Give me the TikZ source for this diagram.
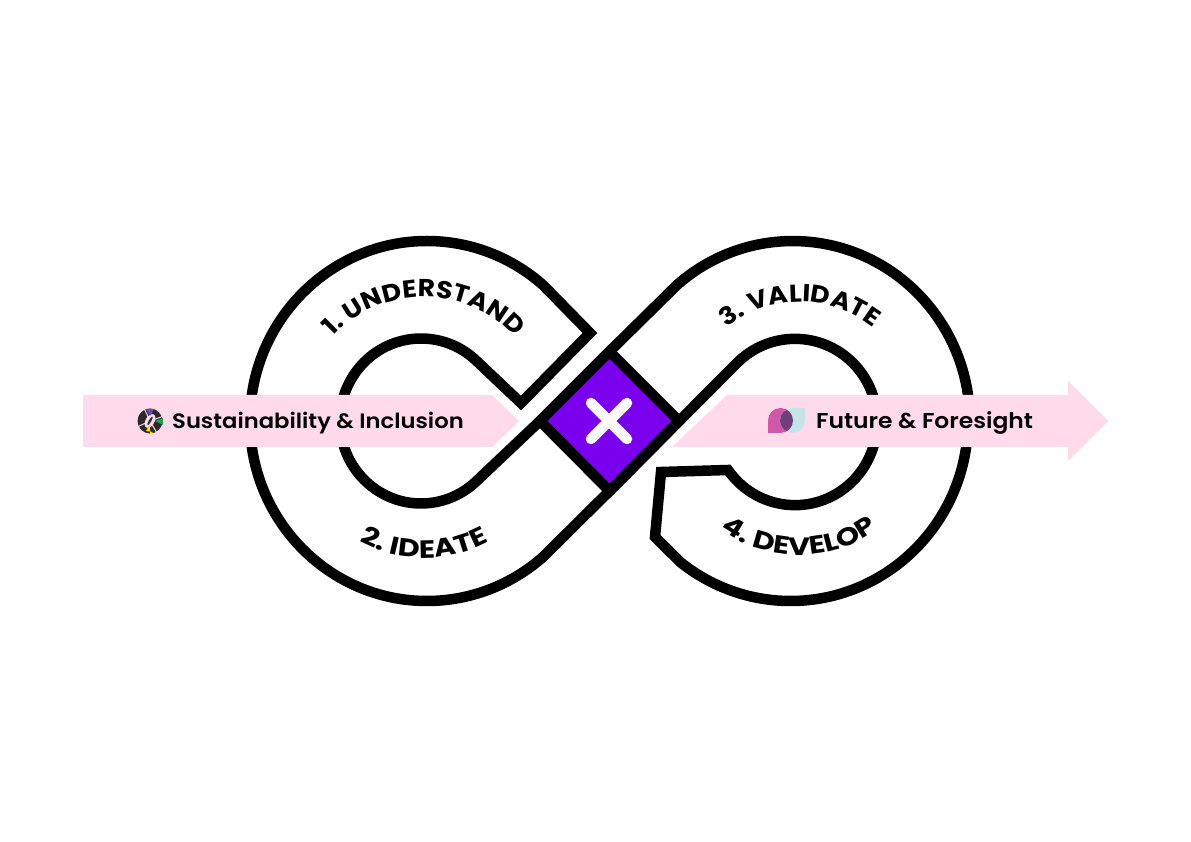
\documentclass[tikz,border=0pt]{standalone}
\usepackage{fontspec}
\newfontfamily\bandfont{Poppins SemiBold}[FakeStretch=1.09]
\newfontfamily\stepfont{Poppins Bold}[FakeStretch=1.09]
\newfontfamily\lowfont{Poppins Bold}[FakeStretch=1.2]
\usetikzlibrary{decorations.text}
\definecolor{bandpink}{HTML}{FFDAEA}
\definecolor{corepurple}{HTML}{7B00EE}
\definecolor{dropmag}{HTML}{D257A8}
\definecolor{dropblue}{HTML}{C5E4EA}
\definecolor{dropmix}{HTML}{6E3F78}
\definecolor{ringdark}{HTML}{2A2A2A}
\definecolor{ringviolet}{HTML}{6A4FB0}
\definecolor{ringgreen}{HTML}{1FA34A}
\definecolor{ringyellow}{HTML}{FFE000}
\tikzset{
  x=1pt,y=1pt,
  loopline/.style={draw=black,line width=10.5pt,miter limit=10,line join=miter},
  band/.style={fill=bandpink,draw=none},
  bandtext/.style={font=\bandfont\fontsize{#1}{#1}\selectfont,anchor=base west,inner sep=0pt,text=black},
  curved/.style={decorate,decoration={text along path,text align=center,
     text={|\stepfont\fontsize{24.5}{24.5}\selectfont|#1}}},
  curvedlow/.style={decorate,decoration={text along path,text align=center,
     text={|\lowfont\fontsize{25}{25}\selectfont|#1}}},
}
\begin{document}
\begin{tikzpicture}
\useasboundingbox (0,-421) rectangle (1191,421);
\fill[white] (0,-421) rectangle (1191,421);
% loop strokes
\draw[loopline] (250,0) arc[start angle=180,end angle=49,x radius=177,y radius=180] -- (590,88) -- (521,18) -- (475,61.5) arc[start angle=48.2,end angle=180,x radius=81,y radius=82.5];
\draw[loopline] (250,0) arc[start angle=180,end angle=311,x radius=177,y radius=180] -- (609.5,-70) -- (737,58) arc[start angle=135,end angle=0,x radius=82,y radius=82.5];
\draw[loopline] (340,0) arc[start angle=180,end angle=311.8,x radius=81,y radius=82.5] -- (540,0) -- (609.5,69.5) -- (677,136) arc[start angle=130.9,end angle=0,x radius=177,y radius=180];
\draw[loopline] (968,0) arc[start angle=0,end angle=-128.3,x radius=177.5,y radius=180] -- (655,-116) -- (661,-51) -- (728,-49) arc[start angle=-144.8,end angle=0,x radius=82,y radius=83];
% centre
\draw[loopline,fill=corepurple] (540,0) -- (609.5,69.5) -- (679,0) -- (609.5,-70) -- cycle;
\draw[white,line width=10.5pt,line cap=round] (591,18) -- (627,-18) (591,-18) -- (627,18);
% bands
\path[band] (83,26) -- (492,26) -- (519,0) -- (492,-26) -- (83,-26) -- cycle;
\path[band] (672,-26) -- (727,26) -- (1068,26) -- (1068,40) -- (1108,0) -- (1068,-40) -- (1068,-26) -- cycle;
% left icon
\fill[ringdark] (150,0) circle[radius=12.5];
\fill[bandpink,rotate around={60:(150,0)}] (150,0) ellipse[x radius=7.5,y radius=4.5];
\foreach \a in {20,115,205,300}{\draw[bandpink,line width=1pt] (150,0) -- ++(\a:13);}
\fill[ringdark,rotate around={60:(150,0)}] (150,0) ellipse[x radius=5,y radius=1.2];
\fill[ringviolet] (146,12) -- (154,12) -- (150,5) -- cycle;
\fill[ringgreen] (163,3) -- (163,-4) -- (155,0) -- cycle;
\fill[ringyellow] (146,-10) -- (153,-11) -- (150,-14) -- (150,-3) -- cycle;
% right icon
\fill[dropmag] (768,-12) -- (768,0.5) arc[start angle=180,end angle=-90,radius=12.5] -- cycle;
\fill[dropblue] (805,13) -- (805,0.5) arc[start angle=0,end angle=-270,radius=12.5] -- cycle;
\begin{scope}
\clip (780.5,0.5) circle[radius=12.5];
\fill[dropmix] (792.5,0.5) circle[radius=12.5];
\end{scope}
% labels
\node[bandtext=20.8] (sustain) at (172,-8) {Sustainability \& Inclusion};
\node[bandtext=21.5] (future) at (816,-8) {Future \& Foresight};
\path[curved={1. UNDERSTAND}] (424,0) ++(150:124) arc[start angle=150,end angle=30,radius=124];
\path[curvedlow={2. IDEATE}] (424,0) ++(-150:137) arc[start angle=-150,end angle=-30,radius=137];
\path[curved={3. VALIDATE}] (800,0) ++(150:119) arc[start angle=150,end angle=30,radius=119];
\path[curvedlow={4. DEVELOP}] (799,0) ++(-150:134) arc[start angle=-150,end angle=-30,radius=134];
\end{tikzpicture}
\end{document}
